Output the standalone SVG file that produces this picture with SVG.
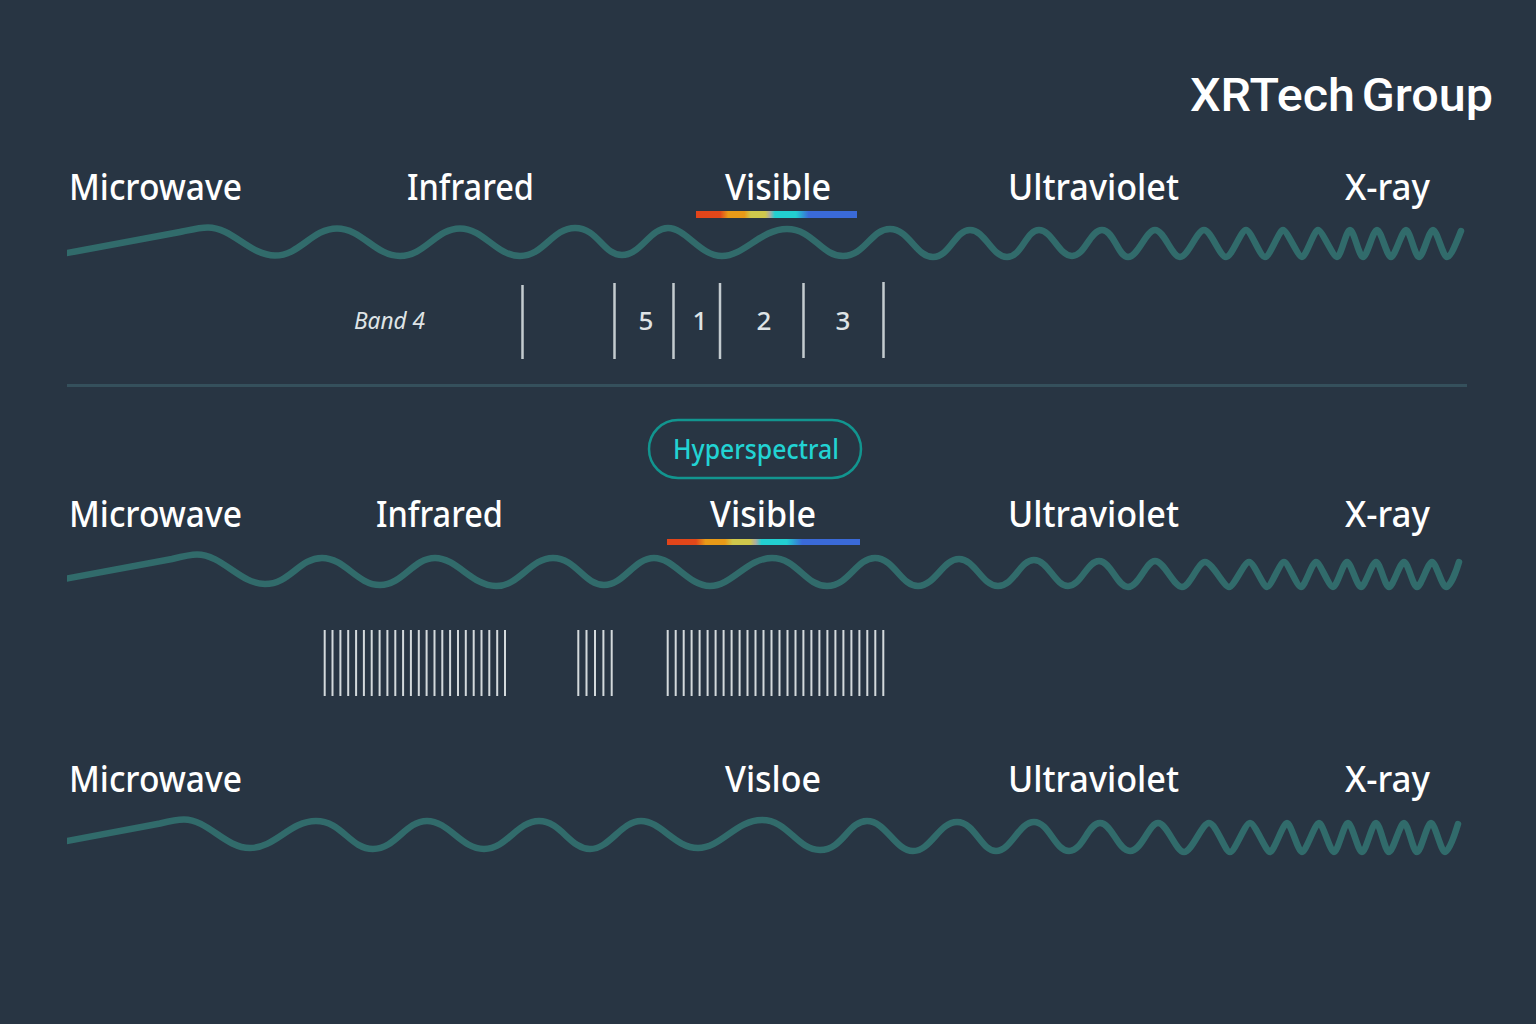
<svg xmlns="http://www.w3.org/2000/svg" width="1536" height="1024" viewBox="0 0 1536 1024">
<style>
.w{fill:none;stroke:#316b6b;stroke-width:6.500;stroke-linecap:round;stroke-linejoin:round}
.l{font-family:"Noto Sans","Open Sans",sans-serif;font-size:36px;font-weight:500;fill:#fff}
.n{font-family:"Noto Sans","Open Sans",sans-serif;font-size:26px;font-weight:500;fill:#dfe4e6;text-anchor:middle}
.t{stroke:#c3cbcf;stroke-width:2.500;fill:none}
.h{stroke:#d3d9dc;stroke-width:2;fill:none}
</style>
<defs>
<linearGradient id="sp" x1="0" x2="1" y1="0" y2="0">
<stop offset="0" stop-color="#e2441a"/><stop offset=".15" stop-color="#e2481a"/><stop offset=".2" stop-color="#e89a18"/><stop offset=".3" stop-color="#e89a18"/><stop offset=".34" stop-color="#cfc84c"/><stop offset=".43" stop-color="#cfc84c"/><stop offset=".46" stop-color="#a9aca6"/><stop offset=".49" stop-color="#22cfd0"/><stop offset=".62" stop-color="#22cfd0"/><stop offset=".7" stop-color="#3a6ad8"/><stop offset="1" stop-color="#3a6ad8"/>
</linearGradient>
<clipPath id="cp"><rect x="67" y="0" width="1469" height="1024"/></clipPath>
</defs>
<rect id="background" width="1536" height="1024" fill="#283543"/>
<text id="title" x="1190" y="111" font-family="Roboto,'Liberation Sans',sans-serif" font-size="47" font-weight="500" fill="#fff" word-spacing="-5" textLength="303" lengthAdjust="spacingAndGlyphs">XRTech Group</text>
<g id="spectrum-1">
<text class="l" x="69" y="200" textLength="173" lengthAdjust="spacingAndGlyphs">Microwave</text>
<text class="l" x="407" y="200" textLength="127" lengthAdjust="spacingAndGlyphs">Infrared</text>
<text class="l" x="725" y="200" textLength="106" lengthAdjust="spacingAndGlyphs">Visible</text>
<text class="l" x="1008" y="200" textLength="171" lengthAdjust="spacingAndGlyphs">Ultraviolet</text>
<text class="l" x="1345" y="200" textLength="85" lengthAdjust="spacingAndGlyphs">X-ray</text>
<rect x="696" y="211" width="161" height="7" fill="url(#sp)"/>
<g clip-path="url(#cp)"><path class="w" d="M62 254L180 232C192 229.500 200 227.500 208 227.500C232 227.500 250 255.500 275 255.500S312 228.500 337 228.500S375 256 400 256S436 228.500 460 228.500S496 256 520 256S552 228 575 228S603 255 622 255S650 228 668 228S700 256 722 256S761 229 787 229S821 256 843 256S871 229 890 229S916 257 933 257S955 230 970 230S992 257 1007 257S1026 230 1039 230S1059 256 1072 256S1090 230 1102 230S1118 257 1128 257S1146 230 1155 230S1172 257 1180 257S1197 230 1204 230S1220 257 1226 257S1241 230 1246 230S1260 257 1265 257S1279 230 1283 230S1298 257 1302 257S1314 230 1318 230S1333 257 1337 257S1346 230 1350 230S1359 257 1363 257S1373 230 1377 230S1387 257 1391 257S1402 230 1406 230S1415 257 1419 257S1429 230 1433 230S1443 257 1447 257S1457 241 1461 231"/></g>
</g>
<g id="bands">
<text x="354" y="329" font-family="'Noto Sans','Open Sans',sans-serif" font-size="24" font-style="italic" fill="#dfe4e6" textLength="71" lengthAdjust="spacingAndGlyphs">Band 4</text>
<path class="t" d="M522.500 285V359M614.500 283V359M673.500 283V359M720 283V359M803.500 283V358M883.500 282V358"/>
<text class="n" x="646" y="330">5</text><text class="n" x="700" y="330">1</text><text class="n" x="764" y="330">2</text><text class="n" x="843" y="330">3</text>
</g>
<path id="divider" d="M67 385.500H1467" stroke="#35505c" stroke-width="3" fill="none"/>
<g id="hyperspectral">
<rect x="649" y="420" width="212" height="58" rx="29" fill="none" stroke="#12958f" stroke-width="2.500"/>
<text x="756" y="459" text-anchor="middle" font-family="'Noto Sans','Open Sans',sans-serif" font-size="27" font-weight="500" fill="#22d3d3" textLength="166" lengthAdjust="spacingAndGlyphs">Hyperspectral</text>
</g>
<g id="spectrum-2">
<text class="l" x="69" y="527" textLength="173" lengthAdjust="spacingAndGlyphs">Microwave</text>
<text class="l" x="376" y="527" textLength="127" lengthAdjust="spacingAndGlyphs">Infrared</text>
<text class="l" x="710" y="527" textLength="106" lengthAdjust="spacingAndGlyphs">Visible</text>
<text class="l" x="1008" y="527" textLength="171" lengthAdjust="spacingAndGlyphs">Ultraviolet</text>
<text class="l" x="1345" y="527" textLength="85" lengthAdjust="spacingAndGlyphs">X-ray</text>
<rect x="667" y="539" width="193" height="6" fill="url(#sp)"/>
<g clip-path="url(#cp)"><path class="w" d="M62 579.500L172 559C182 556.500 190 554.500 197 554.500C222 554.500 240 584 265 584S299 558 322 558S357 585 380 585S413 558 435 558S472 586 496 586S530 558 553 558S584 585 604 585S634 558 654 558S688 586 710 586S747 558 772 558S805 586 827 586S856 558 875 558S901 586 918 586S943 559 959 559S982 586 998 586S1020 560 1034 560S1055 586 1068 586S1087 561 1099 561S1117 587 1128 587S1146 561 1155 561S1174 587 1182 587S1198 562 1205 562S1224 587 1229 587S1244 562 1249 562S1263 587 1267 587S1280 562 1284 562S1297 587 1301 587S1312 562 1316 562S1329 587 1333 587S1343 562 1347 562S1357 587 1361 587S1372 562 1376 562S1385 587 1389 587S1400 562 1404 562S1413 587 1417 587S1428 562 1432 562S1442 587 1446 587S1456 572 1459 562"/></g>
</g>
<g id="hyperspectral-bands">
<path class="h" d="M324.700 630V696M332.500 630V696M340.400 630V696M348.200 630V696M356.100 630V696M363.900 630V696M371.700 630V696M379.600 630V696M387.400 630V696M395.300 630V696M403.100 630V696M410.900 630V696M418.800 630V696M426.600 630V696M434.500 630V696M442.300 630V696M450.100 630V696M458 630V696M465.800 630V696M473.700 630V696M481.500 630V696M489.300 630V696M497.200 630V696M505 630V696"/>
<path class="h" d="M578.300 630V696M586.500 630V696M595 630V696M603.400 630V696M611.700 630V696"/>
<path class="h" d="M667.700 630V696M675.700 630V696M683.700 630V696M691.600 630V696M699.600 630V696M707.600 630V696M715.600 630V696M723.600 630V696M731.600 630V696M739.600 630V696M747.500 630V696M755.500 630V696M763.500 630V696M771.500 630V696M779.500 630V696M787.500 630V696M795.500 630V696M803.400 630V696M811.400 630V696M819.400 630V696M827.400 630V696M835.400 630V696M843.400 630V696M851.400 630V696M859.400 630V696M867.300 630V696M875.300 630V696M883.300 630V696"/>
</g>
<g id="spectrum-3">
<text class="l" x="69" y="792" textLength="173" lengthAdjust="spacingAndGlyphs">Microwave</text>
<text class="l" x="725" y="792" textLength="96" lengthAdjust="spacingAndGlyphs">Visloe</text>
<text class="l" x="1008" y="792" textLength="171" lengthAdjust="spacingAndGlyphs">Ultraviolet</text>
<text class="l" x="1345" y="792" textLength="85" lengthAdjust="spacingAndGlyphs">X-ray</text>
<g clip-path="url(#cp)"><path class="w" d="M62 842L160 823.500C170 821 177 819.500 184 819.500C208 819.500 225 848 250 848S290 821 316 821S350 849 373 849S405 821 427 821S461 849 484 849S517 821 539 821S570 849 590 849S621 821 641 821S675 848 698 848S736 820 762 820S797 850 820 850S848 821 867 821S895 851 913 851S939 822 957 822S981 851 996 851S1019 822 1034 822S1055 851 1069 851S1088 823 1100 823S1118 851 1130 851S1149 823 1158 823S1176 852 1184 852S1202 823 1209 823S1225 852 1230 852S1245 823 1250 823S1266 852 1270 852S1283 823 1287 823S1298 852 1302 852S1315 823 1319 823S1330 852 1334 852S1344 823 1348 823S1358 852 1362 852S1372 823 1376 823S1385 852 1389 852S1400 823 1404 823S1413 852 1417 852S1427 823 1431 823S1441 852 1445 852S1455 834 1458 824"/></g>
</g>
</svg>
